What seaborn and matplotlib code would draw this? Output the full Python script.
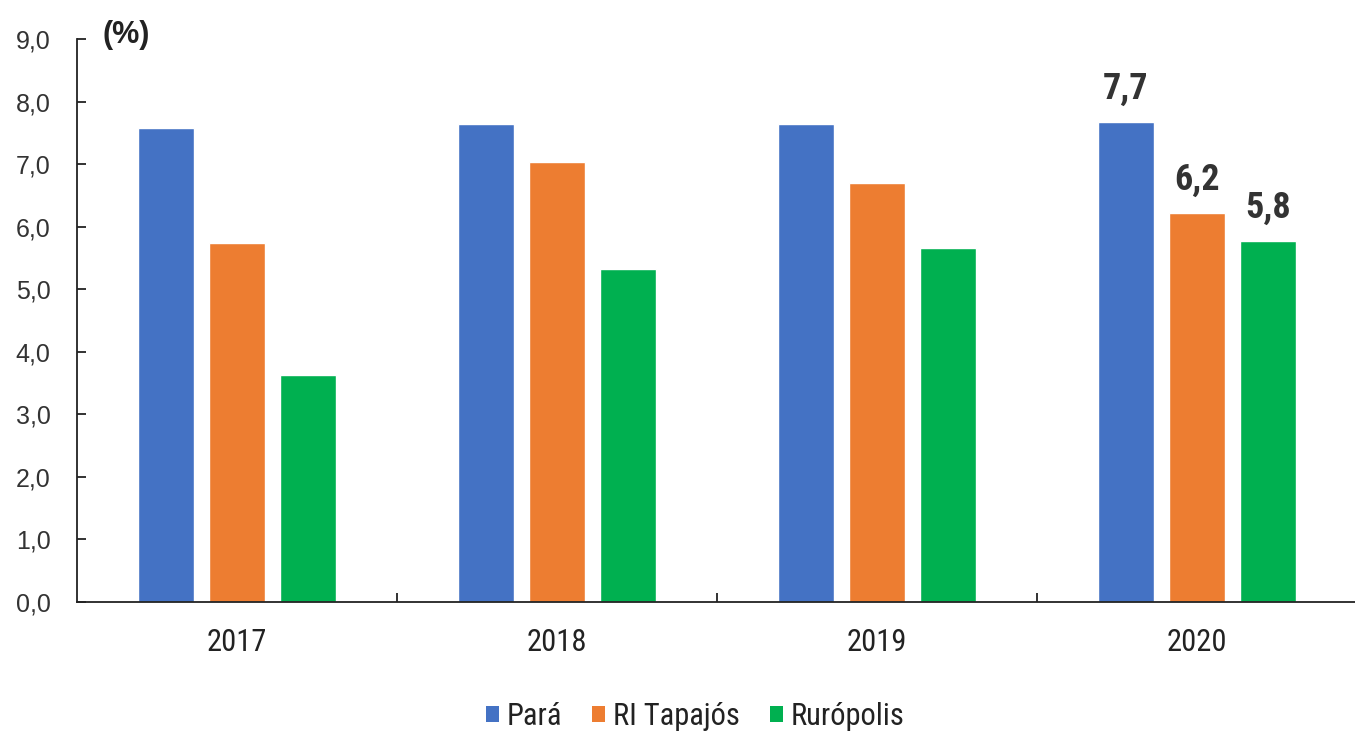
import matplotlib
matplotlib.use("Agg")
import matplotlib.pyplot as plt
from matplotlib import font_manager
from matplotlib.patches import Patch
import seaborn as sns
import pandas as pd

years = ["2017", "2018", "2019", "2020"]
series = ["Pará", "RI Tapajós", "Rurópolis"]
para = [7.58, 7.64, 7.64, 7.67]
ri_tapajos = [5.74, 7.03, 6.70, 6.22]
ruropolis = [3.63, 5.32, 5.66, 5.77]
colors = ["#4472C4", "#ED7D31", "#00B050"]
y_ticks = [0, 1, 2, 3, 4, 5, 6, 7, 8, 9]
labelled_year = "2020"

sns.set_theme(style="white")
plt.rcParams["font.family"] = ["Liberation Sans", "DejaVu Sans"]
names = {f.name for f in font_manager.fontManager.ttflist}
narrow = "Roboto Condensed" if "Roboto Condensed" in names else "Liberation Sans"
nfam = [narrow, "Liberation Sans", "DejaVu Sans"]

df = pd.DataFrame({
    "year": years * 3,
    "series": [s for s in series for _ in years],
    "value": para + ri_tapajos + ruropolis,
})

fig = plt.figure(figsize=(13.55, 7.35), dpi=100)
ax = fig.add_axes([77 / 1355, 133.3 / 735, 1280 / 1355, 562.4 / 735])

sns.barplot(data=df, x="year", y="value", hue="series", order=years,
            hue_order=series, palette=colors, width=0.666, gap=0.21,
            legend=False, ax=ax, saturation=1)

ax.set_xlim(-0.5, 3.5)
ax.set_ylim(0, 9)
ax.set_yticks(y_ticks)
ax.set_yticklabels([f"{v:.1f}".replace(".", ",") for v in y_ticks])
ax.set_xlabel("")
ax.set_ylabel("")

for side in ["top", "right"]:
    ax.spines[side].set_visible(False)
for side in ["left", "bottom"]:
    ax.spines[side].set_color("#222222")
    ax.spines[side].set_linewidth(1.3)

ax.tick_params(axis="y", direction="in", length=6.5, width=1.3, color="#222222",
               pad=19, labelsize=18, labelcolor="#333333", left=True)
ax.tick_params(axis="x", which="major", length=0, pad=19, labelcolor="#222222")
for lab in ax.get_xticklabels():
    lab.set_fontfamily(nfam)
    lab.set_fontsize(22)
ax.set_xticks([0.5, 1.5, 2.5], minor=True)
ax.tick_params(axis="x", which="minor", direction="in", length=6.5, width=1.3,
               color="#222222", bottom=True)

idx = years.index(labelled_year)
for cont, vals in zip(ax.containers, [para, ri_tapajos, ruropolis]):
    labels = [f"{v:.1f}".replace(".", ",") if i == idx else "" for i, v in enumerate(vals)]
    ax.bar_label(cont, labels=labels, padding=11, fontsize=26, fontweight="bold",
                 family=nfam, color="#333333")

fig.text(103 / 1355, 1 - 20 / 735, "(%)", fontsize=22, fontweight="bold",
         ha="left", va="top", color="#222222")

handles = [Patch(facecolor=c, edgecolor="none", label=s) for c, s in zip(colors, series)]
leg = fig.legend(handles=handles, loc="center", bbox_to_anchor=(0.513, 0.025), ncol=3,
                 frameon=False, prop={"family": nfam, "size": 22},
                 handlelength=0.42, handleheight=0.42, handletextpad=0.25,
                 columnspacing=1.0)
for t in leg.get_texts():
    t.set_color("#222222")

fig.savefig("out.png", dpi=100)
